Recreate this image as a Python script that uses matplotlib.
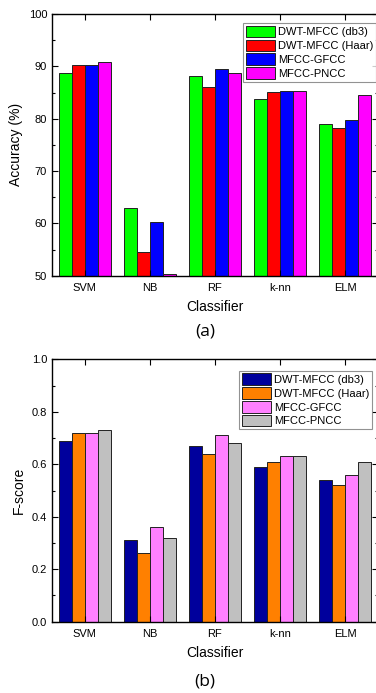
import numpy as np
import matplotlib.pyplot as plt
from matplotlib.ticker import MultipleLocator

plt.rcParams['font.family'] = ['Liberation Sans', 'DejaVu Sans']

classifiers = ["SVM", "NB", "RF", "k-nn", "ELM"]
series = ["DWT-MFCC (db3)", "DWT-MFCC (Haar)", "MFCC-GFCC", "MFCC-PNCC"]

acc_db3 = [88.8, 62.9, 88.1, 83.8, 79.0]
acc_haar = [90.3, 54.6, 86.0, 85.1, 78.3]
acc_gfcc = [90.3, 60.3, 89.5, 85.3, 79.7]
acc_pncc = [90.9, 50.4, 88.8, 85.3, 84.6]

f_db3 = [0.69, 0.31, 0.67, 0.59, 0.54]
f_haar = [0.72, 0.26, 0.64, 0.61, 0.52]
f_gfcc = [0.72, 0.36, 0.71, 0.63, 0.56]
f_pncc = [0.73, 0.32, 0.68, 0.63, 0.61]

colors_a = ["#00FF00", "#FF0000", "#0000FF", "#FF00FF"]
colors_b = ["#00009C", "#FF8000", "#FF80FF", "#C0C0C0"]

fig = plt.figure(figsize=(3.76, 6.93), dpi=100)
ax1 = fig.add_axes([0.1383, 0.6022, 0.866, 0.3776])
ax2 = fig.add_axes([0.1383, 0.1029, 0.866, 0.3786])

x = np.arange(len(classifiers))
w = 0.2


def draw(ax, data, colors, base, anchor):
    for i, (vals, c, lab) in enumerate(zip(data, colors, series)):
        ax.bar(x + (i - 1.5) * w, np.array(vals) - base, w, bottom=base,
               color=c, edgecolor="#222222", linewidth=0.7, label=lab)
    ax.set_xlim(-0.5, 4.5)
    ax.set_xticks(x)
    ax.set_xticklabels(classifiers, fontsize=8)
    ax.tick_params(axis="both", which="both", direction="in",
                   top=True, right=True, labelsize=8, length=4, width=0.8)
    ax.tick_params(axis="both", which="minor", length=2.5)
    ax.tick_params(axis="x", which="major", pad=5)
    for s in ax.spines.values():
        s.set_linewidth(1.0)
    ax.set_xlabel("Classifier", fontsize=10, labelpad=5)
    leg = ax.legend(loc="upper right", bbox_to_anchor=anchor,
                    fontsize=8, frameon=True, fancybox=False,
                    edgecolor="#777777", borderpad=0.25, labelspacing=0.22,
                    handlelength=2.6, handleheight=1.2, handletextpad=0.3,
                    borderaxespad=0)
    leg.get_frame().set_linewidth(0.8)


draw(ax1, [acc_db3, acc_haar, acc_gfcc, acc_pncc], colors_a, 50, (0.995, 0.966))
ax1.set_ylim(50, 100)
ax1.yaxis.set_major_locator(MultipleLocator(10))
ax1.yaxis.set_minor_locator(MultipleLocator(5))
ax1.set_ylabel("Accuracy (%)", fontsize=10, labelpad=4)

draw(ax2, [f_db3, f_haar, f_gfcc, f_pncc], colors_b, 0, (0.983, 0.957))
ax2.set_ylim(0, 1.0)
ax2.yaxis.set_major_locator(MultipleLocator(0.2))
ax2.yaxis.set_minor_locator(MultipleLocator(0.1))
ax2.yaxis.set_major_formatter(plt.FormatStrFormatter("%.1f"))
ax2.set_ylabel("F-score", fontsize=10, labelpad=4)

fig.text(0.545, 1 - 331 / 693, "(a)", fontsize=12.5, family="Open Sans",
         ha="center", va="center")
fig.text(0.545, 1 - 681 / 693, "(b)", fontsize=12.5, family="Open Sans",
         ha="center", va="center")

fig.savefig("out.png", dpi=100)
